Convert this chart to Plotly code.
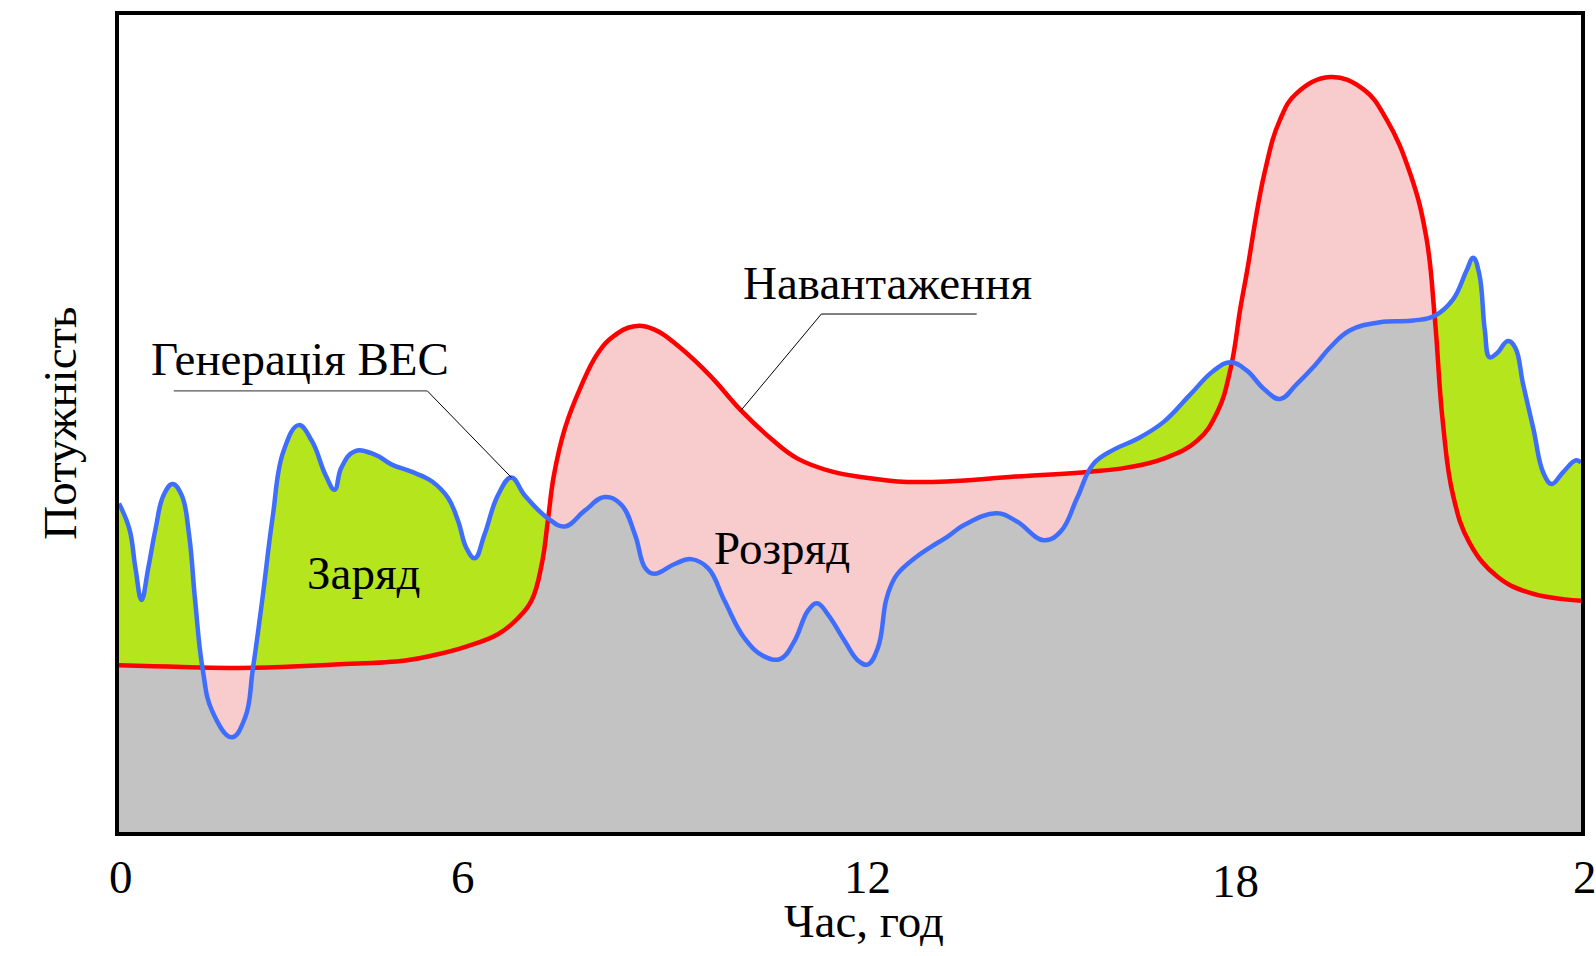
import numpy as np
import plotly.graph_objects as go

# ---- data (hours, relative power 0..100) ----
load_h = [0, 1.03, 2.20, 3.54, 4.70, 5.20, 5.70, 6.22, 6.54, 6.77, 6.94, 7.04, 7.14, 7.32, 7.57,
          7.86, 8.12, 8.46, 8.79, 9.21, 9.71, 10.21, 10.71, 11.14, 11.71, 12.24, 12.78, 13.59,
          14.71, 15.94, 16.54, 17.15, 17.70, 18.03, 18.25, 18.41, 18.51, 18.80, 19.06, 19.33,
          19.88, 20.43, 20.81, 21.20, 21.46, 21.60, 21.73, 21.90, 22.17, 22.62, 23.15, 24]
load = [20.4, 20.2, 20.1, 20.5, 21.0, 21.7, 22.7, 24.2, 26.1, 28.3, 32.8, 38.1, 43.7, 49.4, 54.3,
        58.6, 60.7, 61.9, 61.5, 59.3, 55.8, 51.6, 48.1, 45.7, 44.1, 43.4, 42.9, 42.9,
        43.5, 44.1, 44.6, 45.7, 47.9, 51.4, 56.8, 64.2, 68.3, 80.5, 87.2, 90.4,
        92.4, 90.9, 87.2, 80.5, 72.8, 62.9, 50.3, 41.2, 35.4, 31.3, 29.3, 28.3]

gen_h = [0, 0.17, 0.27, 0.37, 0.48, 0.60, 0.73, 0.88, 1.03, 1.15, 1.25, 1.37, 1.53, 1.85, 2.07,
         2.20, 2.35, 2.52, 2.70, 2.95, 3.17, 3.39, 3.54, 3.65, 3.87, 4.20, 4.47, 4.80, 5.14, 5.40,
         5.57, 5.70, 5.84, 6.00, 6.22, 6.44, 6.66, 7.04, 7.32, 7.64, 7.97, 8.24, 8.47, 8.64, 8.79,
         9.12, 9.39, 9.67, 9.94, 10.27, 10.59, 10.86, 11.09, 11.31, 11.46, 11.63, 11.91, 12.13,
         12.29, 12.46, 12.59, 12.68, 12.78, 13.06, 13.33, 13.59, 13.88, 14.41, 14.74, 15.18,
         15.46, 15.73, 15.99, 16.33, 16.71, 17.15, 17.58, 17.96, 18.25, 18.51, 18.80, 19.06,
         19.33, 19.63, 19.88, 20.21, 20.70, 21.25, 21.60, 21.90, 22.12, 22.23, 22.33, 22.42,
         22.50, 22.62, 22.80, 22.92, 23.05, 23.22, 23.38, 23.52, 23.70, 23.92, 24]
gen = [40.2, 37.1, 32.3, 28.4, 32.3, 37.1, 41.2, 42.6, 41.2, 36.4, 28.3, 20.1, 14.8, 11.6, 14.0,
       20.1, 28.3, 38.4, 46.6, 49.8, 47.8, 43.7, 41.9, 44.6, 46.6, 46.2, 45.0, 44.1, 42.9, 40.9,
       38.0, 34.8, 33.5, 36.4, 41.2, 43.4, 41.2, 38.4, 37.4, 39.3, 41.0, 40.1, 36.4, 32.3, 31.6,
       32.8, 33.4, 32.3, 28.3, 23.7, 21.5, 21.2, 23.4, 27.1, 28.0, 26.7, 23.4, 21.0,
       20.5, 22.6, 28.3, 30.3, 31.6, 33.5, 34.9, 36.1, 37.6, 39.0, 38.0, 35.7,
       36.8, 40.9, 45.0, 46.8, 48.1, 50.2, 53.5, 56.4, 57.5, 56.5, 54.2, 53.0,
       54.8, 57.1, 59.3, 61.4, 62.4, 62.6, 63.2, 65.2, 68.7, 70.3, 68.3, 61.5,
       58.1, 58.6, 60.1, 59.3, 54.8, 49.3, 44.0, 42.6, 44.0, 45.5, 45.2]

tick_labels = ["0", "6", "12", "18", "24"]
x_title = "Час, год"
y_title = "Потужність"
load_name = "Навантаження"
gen_name = "Генерація ВЕС"
charge_label = "Заряд"
discharge_label = "Розряд"

# ---- derived: lower envelope min(load, gen) for the grey area ----
xs = np.union1d(load_h, gen_h)
Li = np.interp(xs, load_h, load)
Gi = np.interp(xs, gen_h, gen)
d = Li - Gi
env_x, env_y = [xs[0]], [min(Li[0], Gi[0])]
for i in range(len(xs) - 1):
    if d[i] * d[i + 1] < 0:
        t = d[i] / (d[i] - d[i + 1])
        env_x.append(xs[i] + t * (xs[i + 1] - xs[i]))
        env_y.append(Li[i] + t * (Li[i + 1] - Li[i]))
    env_x.append(xs[i + 1])
    env_y.append(min(Li[i + 1], Gi[i + 1]))

GREEN = "#B5E61D"
PINK = "#F8CBCC"
GREY = "#C3C3C3"
RED = "#FF0000"
BLUE = "#3F6EFF"
FONT = "Liberation Serif"
SM = 1.2

fig = go.Figure()
fig.add_trace(go.Scatter(x=gen_h, y=gen, mode="lines", fill="tozeroy", fillcolor=GREEN,
                         line=dict(width=0, color=GREEN, shape="spline", smoothing=SM),
                         hoverinfo="skip"))
fig.add_trace(go.Scatter(x=load_h, y=load, mode="lines", fill="tozeroy", fillcolor=PINK,
                         line=dict(width=0, color=PINK, shape="spline", smoothing=SM),
                         hoverinfo="skip"))
fig.add_trace(go.Scatter(x=env_x, y=env_y, mode="lines", fill="tozeroy", fillcolor=GREY,
                         line=dict(width=0, color=GREY, shape="spline", smoothing=SM),
                         hoverinfo="skip"))
fig.add_trace(go.Scatter(x=load_h, y=load, mode="lines", name=load_name,
                         line=dict(width=4.5, color=RED, shape="spline", smoothing=SM)))
fig.add_trace(go.Scatter(x=gen_h, y=gen, mode="lines", name=gen_name,
                         line=dict(width=4.5, color=BLUE, shape="spline", smoothing=SM)))

W, H = 1596, 956
L_, R_, T_, B_ = 119, 11, 12, 124
pw, ph = W - L_ - R_, H - T_ - B_


def px(x):
    return (x - L_) / pw


def py(y):
    return (H - B_ - y) / ph


ann = []
tf = dict(family=FONT, size=47, color="black")
ann.append(dict(text=load_name, x=px(890), y=py(281), xref="paper", yref="paper",
                showarrow=False, font=tf, xanchor="center", yanchor="middle"))
ann.append(dict(text=gen_name, x=px(300), y=py(357), xref="paper", yref="paper",
                showarrow=False, font=tf, xanchor="center", yanchor="middle"))
ann.append(dict(text=charge_label, x=px(364), y=py(572), xref="paper", yref="paper",
                showarrow=False, font=tf, xanchor="center", yanchor="middle"))
ann.append(dict(text=discharge_label, x=px(784), y=py(547), xref="paper", yref="paper",
                showarrow=False, font=tf, xanchor="center", yanchor="middle"))
tick_pos = [(121, 877), (464, 877), (870, 877), (1239, 881), (1575, 877)]
for lab, (tx, ty) in zip(tick_labels, tick_pos):
    last = lab == tick_labels[-1]
    ann.append(dict(text=lab, x=px(tx), y=py(ty), xref="paper", yref="paper",
                    showarrow=False, font=tf, xanchor="left" if last else "center",
                    yanchor="middle"))
ann.append(dict(text=x_title, x=px(866), y=py(921), xref="paper", yref="paper",
                showarrow=False, font=tf, xanchor="center", yanchor="middle"))
ann.append(dict(text=y_title, x=px(59), y=py(422), xref="paper", yref="paper",
                showarrow=False, font=tf, xanchor="center", yanchor="middle", textangle=-90))

# leader lines: anchored on the curves
la_x, la_y = load_h[21], load[21]
ga_x, ga_y = gen_h[35], gen[35]
shapes = [
    dict(type="line", xref="x", yref="y", x0=la_x, y0=la_y, x1=11.53, y1=63.4,
         line=dict(color="black", width=1)),
    dict(type="line", xref="x", yref="y", x0=11.53, y0=63.4, x1=14.08, y1=63.4,
         line=dict(color="black", width=1)),
    dict(type="line", xref="x", yref="y", x0=ga_x, y0=ga_y, x1=5.06, y1=54.0,
         line=dict(color="black", width=1)),
    dict(type="line", xref="x", yref="y", x0=5.06, y0=54.0, x1=0.90, y1=54.0,
         line=dict(color="#555555", width=1.2)),
]

fig.update_layout(
    width=W, height=H,
    margin=dict(l=L_, r=R_, t=T_, b=B_),
    paper_bgcolor="white", plot_bgcolor="white",
    showlegend=False, hovermode=False,
    annotations=ann, shapes=shapes,
    xaxis=dict(range=[0, 24], showgrid=False, zeroline=False, showticklabels=False,
               ticks="", showline=True, mirror=True, linecolor="black", linewidth=4),
    yaxis=dict(range=[0, 100], showgrid=False, zeroline=False, showticklabels=False,
               ticks="", showline=True, mirror=True, linecolor="black", linewidth=4),
)

fig.write_html("out.html", config={"displayModeBar": False},
               post_script="document.body.style.margin='0';document.body.style.overflow='hidden';")
